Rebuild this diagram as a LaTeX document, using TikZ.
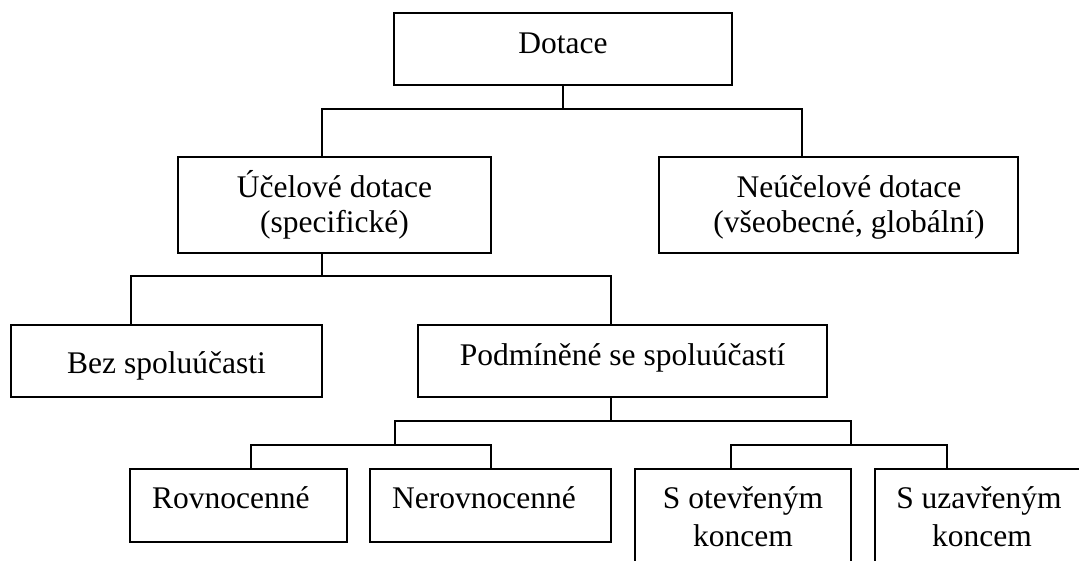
\documentclass[tikz,border=0pt]{standalone}
\usepackage{fontspec}
\setmainfont{Liberation Serif}
\begin{document}
\begin{tikzpicture}[x=1pt,y=-1pt,
  box/.style={draw=black,line width=1.8pt,inner sep=0pt,fill=white},
  lbl/.style={inner sep=0pt,font=\fontsize{31.5}{36}\selectfont},
  conn/.style={draw=black,line width=1.8pt}]
\useasboundingbox (0,0) rectangle (1079,560);
\clip (0,0) rectangle (1079,560);

% boxes
\node[box,minimum width=338pt,minimum height=72pt] (dot) at (563,49) {};
\node[box,minimum width=313pt,minimum height=96pt] (uc) at (334.5,205) {};
\node[box,minimum width=359pt,minimum height=96pt] (neuc) at (838.5,205) {};
\node[box,minimum width=311pt,minimum height=72pt] (bez) at (166.5,361) {};
\node[box,minimum width=409pt,minimum height=72pt] (podm) at (622.5,361) {};
\node[box,minimum width=217pt,minimum height=73pt] (rov) at (238.5,505.5) {};
\node[box,minimum width=241pt,minimum height=73pt] (nerov) at (490.5,505.5) {};
\node[box,minimum width=216pt,minimum height=121pt] (sot) at (743,529.5) {};
\node[box,minimum width=210pt,minimum height=121pt] (suz) at (980,529.5) {};

% texts
\node[lbl,anchor=base] (tdot) at (563,53) {Dotace};
\node[lbl,anchor=base] (tuc1) at (334.5,197) {Účelové dotace};
\node[lbl,anchor=base] (tuc2) at (334.5,232.5) {(specifické)};
\node[lbl,anchor=base] (tneuc1) at (849,197) {Neúčelové dotace};
\node[lbl,anchor=base] (tneuc2) at (849,232.5) {(všeobecné, globální)};
\node[lbl,anchor=base] (tbez) at (166.5,373) {Bez spoluúčasti};
\node[lbl,anchor=base] (tpodm) at (622.5,365) {Podmíněné se spoluúčastí};
\node[lbl,anchor=base west] (trov) at (152,508) {Rovnocenné};
\node[lbl,anchor=base west] (tnerov) at (392,508) {Nerovnocenné};
\node[lbl,anchor=base] (tsot1) at (743,508) {S otevřeným};
\node[lbl,anchor=base] (tsot2) at (743,546) {koncem};
\node[lbl,anchor=base] (tsuz1) at (979,508) {S uzavřeným};
\node[lbl,anchor=base] (tsuz2) at (982,546) {koncem};

% junction points
\coordinate (j0) at (563,109);
\coordinate (j0l) at (322,109);
\coordinate (j0r) at (802,109);
\coordinate (j1) at (322,276);
\coordinate (j1l) at (131,276);
\coordinate (j1r) at (611,276);
\coordinate (j2) at (611,421);
\coordinate (j2l) at (395,421);
\coordinate (j2r) at (851,421);
\coordinate (j3l) at (395,445);
\coordinate (j3r) at (851,445);
\coordinate (j3ll) at (251,445);
\coordinate (j3lr) at (491,445);
\coordinate (j3rl) at (731,445);
\coordinate (j3rr) at (947,445);

% connectors
\draw[conn] (dot.south) -- (j0);
\draw[conn] (j0l |- uc.north) -- (j0l) -- (j0r) -- (j0r |- neuc.north);
\draw[conn] (j1 |- uc.south) -- (j1);
\draw[conn] (j1l |- bez.north) -- (j1l) -- (j1r) -- (j1r |- podm.north);
\draw[conn] (j2 |- podm.south) -- (j2);
\draw[conn] (j3l) -- (j2l) -- (j2r) -- (j3r);
\draw[conn] (j3ll |- rov.north) -- (j3ll) -- (j3lr) -- (j3lr |- nerov.north);
\draw[conn] (j3rl |- sot.north) -- (j3rl) -- (j3rr) -- (j3rr |- suz.north);
\end{tikzpicture}
\end{document}
